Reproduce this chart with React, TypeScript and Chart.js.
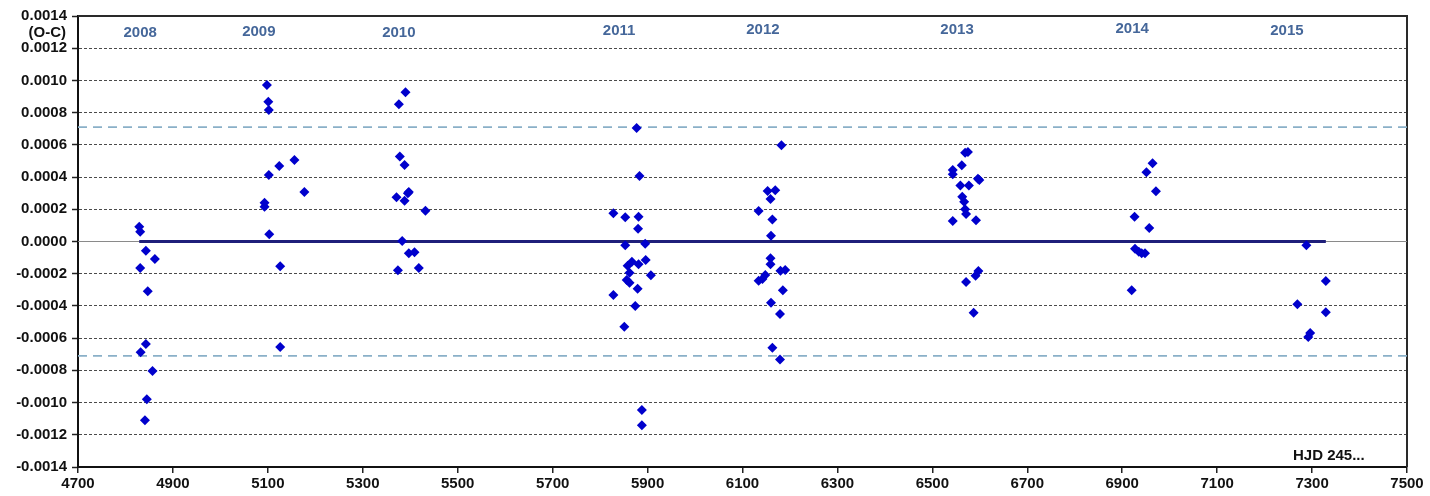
import React, { useEffect, useRef } from "react";
import { Chart, registerables } from "chart.js";

Chart.register(...registerables);

// ---- data: [HJD 245..., O-C] ----
const season2008: [number, number][] = [
  [4829, 0.000092], [4831, 0.000061], [4843, -0.000057], [4862, -0.000109], [4831, -0.000165],
  [4847, -0.000309], [4843, -0.000637], [4832, -0.000688], [4857, -0.000804], [4845, -0.00098],
  [4841, -0.00111],
];
const season2009: [number, number][] = [
  [5098, 0.000972], [5101, 0.000868], [5102, 0.000817], [5156, 0.000506], [5124, 0.000469],
  [5102, 0.000413], [5177, 0.000307], [5093, 0.000241], [5093, 0.000216], [5103, 0.000045],
  [5126, -0.000154], [5126, -0.000655],
];
const season2010: [number, number][] = [
  [5390, 0.000927], [5376, 0.000852], [5378, 0.000527], [5388, 0.000475], [5397, 0.000307],
  [5395, 0.000299], [5371, 0.000274], [5388, 0.000253], [5432, 0.000191], [5383, 0.000003],
  [5397, -0.000073], [5409, -0.000067], [5374, -0.000179], [5418, -0.000165],
];
const season2011: [number, number][] = [
  [5877, 0.000705], [5883, 0.000407], [5828, 0.000175], [5853, 0.00015], [5881, 0.000154],
  [5880, 0.000079], [5853, -0.000024], [5895, -0.000014], [5896, -0.000115], [5867, -0.000125],
  [5881, -0.000142], [5858, -0.00015], [5862, -0.000194], [5907, -0.00021], [5856, -0.000239],
  [5862, -0.000256], [5879, -0.000293], [5828, -0.000332], [5874, -0.0004], [5851, -0.000529],
  [5888, -0.001046], [5888, -0.001141],
];
const season2012: [number, number][] = [
  [6182, 0.000597], [6153, 0.000314], [6169, 0.000318], [6159, 0.000264], [6134, 0.000189],
  [6163, 0.000136], [6160, 0.000036], [6159, -0.000104], [6159, -0.000142], [6180, -0.000181],
  [6190, -0.000177], [6148, -0.000208], [6142, -0.000233], [6134, -0.000243], [6185, -0.000303],
  [6160, -0.00038], [6179, -0.00045], [6163, -0.000659], [6179, -0.000732],
];
const season2013: [number, number][] = [
  [6569, 0.000551], [6575, 0.000556], [6562, 0.000473], [6543, 0.000444], [6543, 0.000417],
  [6599, 0.000382], [6596, 0.00039], [6559, 0.000347], [6577, 0.000347], [6563, 0.000278],
  [6567, 0.000247], [6569, 0.0002], [6571, 0.000171], [6543, 0.000127], [6592, 0.000132],
  [6597, -0.000183], [6591, -0.000212], [6571, -0.000252], [6587, -0.000442],
];
const season2014: [number, number][] = [
  [6964, 0.000486], [6951, 0.00043], [6971, 0.000312], [6926, 0.000154], [6957, 0.000084],
  [6927, -0.000045], [6935, -0.000063], [6941, -0.000073], [6948, -0.000073], [6920, -0.000303],
];
const season2015: [number, number][] = [
  [7288, -0.000024], [7329, -0.000245], [7269, -0.00039], [7329, -0.00044], [7296, -0.000568],
  [7292, -0.000593],
];

const yearLabels = ["2008", "2009", "2010", "2011", "2012", "2013", "2014", "2015"];
const yearLabelX = [4831, 5081, 5376, 5840, 6143, 6552, 6921, 7247];
const yearLabelY = [0.001295, 0.001300, 0.001295, 0.001305, 0.001313, 0.001313, 0.00132, 0.001305];

const fitLineX = [4829, 7329];
const fullRangeX = [4700, 7500];
const limitLevel = 0.00071;

const X_MIN = 4700, X_MAX = 7500, X_STEP = 200;
const Y_MIN = -0.0014, Y_MAX = 0.0014, Y_STEP = 0.0002;

const FONT = "'Liberation Sans', Arial, sans-serif";

export default function App() {
  const ref = useRef<HTMLCanvasElement | null>(null);

  useEffect(() => {
    if (!ref.current) return;
    const allPoints = [
      ...season2008, ...season2009, ...season2010, ...season2011,
      ...season2012, ...season2013, ...season2014, ...season2015,
    ].map(([x, y]) => ({ x, y }));

    const overlay = {
      id: "overlay",
      beforeDatasetsDraw(chart: any) {
        const { ctx, chartArea } = chart;
        ctx.save();
        ctx.strokeStyle = "#2a2a2a";
        ctx.lineWidth = 2;
        ctx.beginPath();
        ctx.moveTo(chartArea.left, chartArea.top);
        ctx.lineTo(chartArea.right, chartArea.top);
        ctx.lineTo(chartArea.right, chartArea.bottom);
        ctx.stroke();
        ctx.restore();
      },
      afterDraw(chart: any) {
        const { ctx, scales } = chart;
        const xs = scales.x, ys = scales.y;
        ctx.save();
        ctx.font = `bold 15px ${FONT}`;
        ctx.fillStyle = "#45679a";
        ctx.textAlign = "center";
        ctx.textBaseline = "middle";
        yearLabels.forEach((t, i) => {
          ctx.fillText(t, xs.getPixelForValue(yearLabelX[i]), ys.getPixelForValue(yearLabelY[i]));
        });
        ctx.fillStyle = "#111";
        ctx.textAlign = "right";
        ctx.fillText("(O-C)", 66, 33);
        ctx.textAlign = "left";
        ctx.fillText("HJD 245...", 1293, 456);
        ctx.restore();
      },
    };

    const chart = new Chart(ref.current, {
      type: "scatter",
      data: {
        datasets: [
          {
            label: "O-C",
            data: allPoints,
            pointStyle: "rectRot",
            pointRadius: 5,
            pointHoverRadius: 5,
            backgroundColor: "#0000cc",
            borderColor: "#0000cc",
            borderWidth: 0,
            showLine: false,
            order: 0,
          },
          {
            label: "fit",
            data: fitLineX.map((x) => ({ x, y: 0 })),
            showLine: true,
            borderColor: "#1f1f7a",
            borderWidth: 3,
            pointRadius: 0,
            order: 1,
          },
          {
            label: "upper",
            data: fullRangeX.map((x) => ({ x, y: limitLevel })),
            showLine: true,
            borderColor: "#8ab0c8",
            borderWidth: 1.6,
            borderDash: [9, 6],
            pointRadius: 0,
            order: 2,
          },
          {
            label: "lower",
            data: fullRangeX.map((x) => ({ x, y: -limitLevel })),
            showLine: true,
            borderColor: "#8ab0c8",
            borderWidth: 1.6,
            borderDash: [9, 6],
            pointRadius: 0,
            order: 3,
          },
          {
            label: "zero",
            data: fullRangeX.map((x) => ({ x, y: 0 })),
            showLine: true,
            borderColor: "#8a8a8a",
            borderWidth: 1,
            pointRadius: 0,
            order: 4,
          },
        ],
      },
      options: {
        animation: false,
        responsive: false,
        events: [],
        layout: { padding: { top: 16, right: 23, left: 0, bottom: 0 } },
        plugins: { legend: { display: false }, tooltip: { enabled: false } },
        scales: {
          x: {
            type: "linear",
            min: X_MIN,
            max: X_MAX,
            afterFit: (s: any) => { s.height = 29; },
            ticks: {
              stepSize: X_STEP,
              color: "#111",
              font: { family: FONT, size: 15, weight: "bold" },
              padding: 2,
              maxRotation: 0,
              autoSkip: false,
              callback: (v: any) => String(v),
            },
            grid: { display: true, drawOnChartArea: false, drawTicks: true, tickLength: 6, color: "#222", lineWidth: 1.5 },
            border: { display: true, color: "#111", width: 2 },
          },
          y: {
            type: "linear",
            min: Y_MIN,
            max: Y_MAX,
            afterFit: (s: any) => { s.width = 78; },
            ticks: {
              stepSize: Y_STEP,
              color: "#111",
              font: { family: FONT, size: 15, weight: "bold" },
              padding: 5,
              autoSkip: false,
              callback: (v: any) => Number(v).toFixed(4),
            },
            grid: {
              display: true,
              drawOnChartArea: true,
              drawTicks: true,
              tickLength: 6,
              color: "#4a4a4a",
              lineWidth: 1,
              tickColor: "#222",
              tickWidth: 1.5,
              tickBorderDash: [],
            },
            border: { display: true, color: "#111", width: 2, dash: [3, 2] },
          },
        },
      },
      plugins: [overlay],
    });
    return () => chart.destroy();
  }, []);

  return (
    <div style={{ position: "absolute", left: 0, top: 0, width: 1430, height: 496, background: "#fff" }}>
      <canvas ref={ref} width={1430} height={496} style={{ display: "block" }} />
    </div>
  );
}
